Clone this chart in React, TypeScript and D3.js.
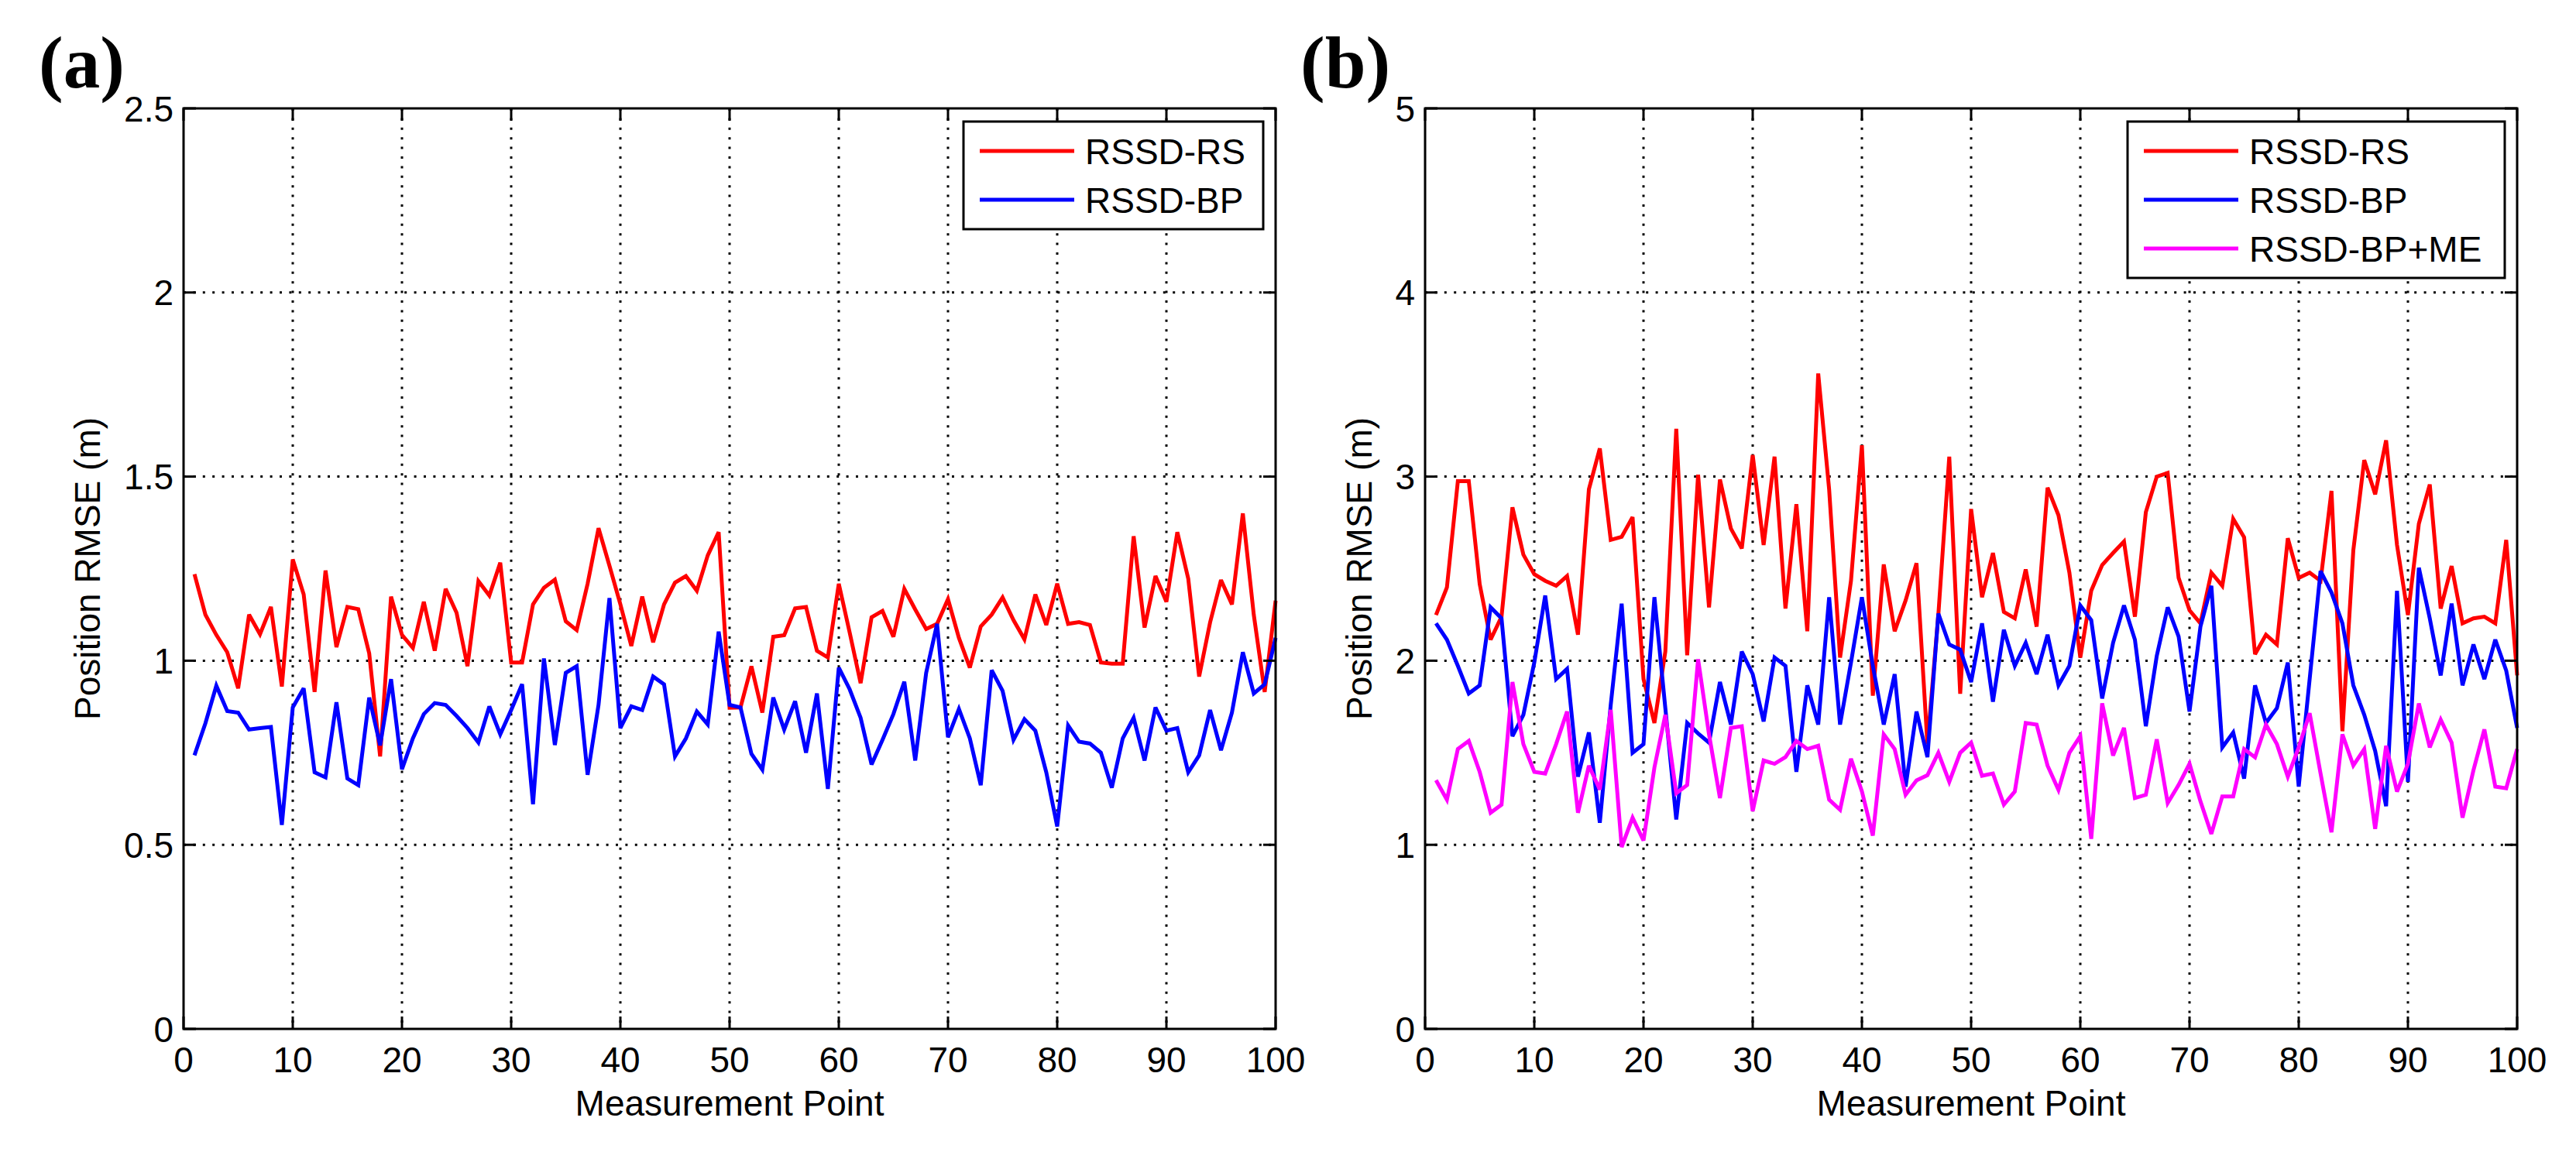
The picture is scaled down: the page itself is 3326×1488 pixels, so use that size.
import { scaleLinear, line } from 'd3';

// Measurement points 1..100
const points = Array.from({ length: 100 }, (_, i) => i + 1);

// Panel (a)
const rsA = [
  1.235, 1.125, 1.07, 1.023, 0.925, 1.125, 1.072, 1.146, 0.93, 1.275,
  1.18, 0.915, 1.245, 1.037, 1.146, 1.14, 1.02, 0.74, 1.174, 1.07,
  1.035, 1.16, 1.027, 1.195, 1.13, 0.985, 1.216, 1.177, 1.266, 0.995,
  0.995, 1.153, 1.198, 1.22, 1.107, 1.083, 1.209, 1.36, 1.258, 1.153,
  1.04, 1.174, 1.05, 1.153, 1.212, 1.23, 1.19, 1.286, 1.349, 0.872,
  0.873, 0.985, 0.859, 1.065, 1.069, 1.142, 1.146, 1.027, 1.009, 1.209,
  1.076, 0.939, 1.118, 1.135, 1.065, 1.195, 1.139, 1.086, 1.1, 1.167,
  1.062, 0.981, 1.093, 1.125, 1.172, 1.11, 1.058, 1.18, 1.097, 1.209,
  1.1, 1.105, 1.097, 0.995, 0.992, 0.992, 1.338, 1.09, 1.23, 1.16,
  1.349, 1.223, 0.957, 1.104, 1.219, 1.153, 1.4, 1.125, 0.915, 1.163,
];
const bpA = [
  0.743, 0.83, 0.932, 0.863, 0.859, 0.813, 0.817, 0.82, 0.554, 0.873,
  0.925, 0.697, 0.683, 0.887, 0.68, 0.662, 0.9, 0.77, 0.95, 0.705,
  0.789, 0.855, 0.885, 0.88, 0.85, 0.817, 0.778, 0.876, 0.8, 0.866,
  0.936, 0.61, 1.006, 0.771, 0.967, 0.985, 0.69, 0.88, 1.17, 0.817,
  0.876, 0.866, 0.957, 0.936, 0.74, 0.789, 0.862, 0.827, 1.079, 0.88,
  0.873, 0.747, 0.704, 0.9, 0.813, 0.89, 0.75, 0.911, 0.652, 0.981,
  0.922, 0.845, 0.718, 0.785, 0.855, 0.943, 0.729, 0.967, 1.1, 0.792,
  0.869, 0.789, 0.662, 0.974, 0.918, 0.785, 0.841, 0.81, 0.697, 0.55,
  0.824, 0.78, 0.775, 0.75, 0.655, 0.789, 0.845, 0.729, 0.873, 0.81,
  0.817, 0.697, 0.743, 0.866, 0.757, 0.859, 1.023, 0.911, 0.936, 1.062,
];

// Panel (b)
const rsB = [
  2.248, 2.398, 2.975, 2.975, 2.416, 2.114, 2.239, 2.833, 2.576, 2.47,
  2.434, 2.407, 2.46, 2.141, 2.931, 3.153, 2.656, 2.673, 2.78, 1.9,
  1.662, 2.05, 3.26, 2.03, 3.01, 2.29, 2.984, 2.718, 2.61, 3.117,
  2.629, 3.108, 2.283, 2.85, 2.16, 3.56, 2.93, 2.017, 2.434, 3.17,
  1.81, 2.523, 2.16, 2.327, 2.53, 1.547, 2.25, 3.108, 1.82, 2.824,
  2.345, 2.585, 2.265, 2.23, 2.496, 2.185, 2.94, 2.79, 2.478, 2.017,
  2.38, 2.52, 2.585, 2.647, 2.239, 2.807, 3.0, 3.02, 2.45, 2.274,
  2.203, 2.478, 2.407, 2.77, 2.67, 2.035, 2.141, 2.088, 2.665, 2.45,
  2.478, 2.434, 2.922, 1.617, 2.6, 3.09, 2.904, 3.197, 2.629, 2.248,
  2.744, 2.957, 2.283, 2.514, 2.203, 2.23, 2.239, 2.203, 2.656, 1.92,
];
const bpB = [
  2.203, 2.114, 1.972, 1.822, 1.866, 2.29, 2.23, 1.59, 1.706, 1.99,
  2.354, 1.9, 1.955, 1.37, 1.61, 1.12, 1.76, 2.31, 1.5, 1.547,
  2.345, 1.742, 1.138, 1.662, 1.605, 1.555, 1.884, 1.653, 2.05, 1.927,
  1.67, 2.017, 1.972, 1.396, 1.866, 1.653, 2.345, 1.653, 1.99, 2.345,
  1.972, 1.653, 1.927, 1.316, 1.724, 1.476, 2.256, 2.088, 2.06, 1.884,
  2.203, 1.777, 2.168, 1.972, 2.097, 1.927, 2.141, 1.866, 1.972, 2.3,
  2.22, 1.795, 2.097, 2.3, 2.114, 1.644, 2.026, 2.29, 2.132, 1.724,
  2.185, 2.407, 1.529, 1.61, 1.36, 1.866, 1.662, 1.742, 1.99, 1.316,
  1.9, 2.487, 2.37, 2.203, 1.866, 1.706, 1.51, 1.21, 2.38, 1.342,
  2.505, 2.23, 1.92, 2.31, 1.866, 2.088, 1.9, 2.114, 1.946, 1.635,
];
const meB = [
  1.351, 1.245, 1.52, 1.564, 1.396, 1.174, 1.218, 1.884, 1.547, 1.396,
  1.387, 1.547, 1.724, 1.174, 1.43, 1.3, 1.733, 0.988, 1.147, 1.023,
  1.42, 1.706, 1.28, 1.325, 2.008, 1.6, 1.254, 1.635, 1.644, 1.183,
  1.458, 1.44, 1.476, 1.564, 1.52, 1.538, 1.245, 1.19, 1.467, 1.29,
  1.05, 1.6, 1.52, 1.272, 1.35, 1.378, 1.5, 1.342, 1.5, 1.555,
  1.375, 1.387, 1.218, 1.289, 1.662, 1.653, 1.43, 1.298, 1.5, 1.591,
  1.032, 1.768, 1.485, 1.635, 1.254, 1.272, 1.573, 1.227, 1.325, 1.44,
  1.236, 1.059, 1.263, 1.263, 1.52, 1.475, 1.653, 1.547, 1.37, 1.529,
  1.715, 1.387, 1.068, 1.6, 1.431, 1.52, 1.086, 1.538, 1.289, 1.44,
  1.768, 1.529, 1.68, 1.555, 1.147, 1.405, 1.627, 1.316, 1.307, 1.52,
];

const xTicks = [0, 10, 20, 30, 40, 50, 60, 70, 80, 90, 100];
const yTicksA = [0, 0.5, 1, 1.5, 2, 2.5];
const yTicksB = [0, 1, 2, 3, 4, 5];

const W = 3326;
const H = 1488;
const FONT = '"Liberation Sans", Arial, Helvetica, sans-serif';
const FS = 46;
const TOP = 140;
const BOTTOM = 1329;

interface Series {
  name: string;
  color: string;
  values: number[];
}

interface PanelProps {
  tag: string;
  tagX: number;
  left: number;
  right: number;
  yMax: number;
  yTicks: number[];
  ylabelX: number;
  series: Series[];
  legendWidth: number;
}

function Panel({ tag, tagX, left, right, yMax, yTicks, ylabelX, series, legendWidth }: PanelProps) {
  const x = scaleLinear().domain([0, 100]).range([left, right]);
  const y = scaleLinear().domain([0, yMax]).range([BOTTOM, TOP]);
  const tickLen = 16;

  const path = line<number>()
    .x((_, i) => x(points[i]))
    .y((d) => y(d));

  // legend geometry
  const lgRight = right - 16;
  const lgLeft = lgRight - legendWidth;
  const lgTop = 157;
  const rowGap = 63;
  const lgHeight = 38 * 2 + rowGap * (series.length - 1);

  return (
    <g>
      <text x={tagX} y={113} fontFamily='"Liberation Serif", "Times New Roman", serif' fontWeight="bold" fontSize={95}>
        {tag}
      </text>

      {/* grid */}
      {xTicks.slice(1, -1).map((t) => (
        <line key={`gx${t}`} x1={x(t)} x2={x(t)} y1={TOP} y2={BOTTOM} stroke="#000" strokeWidth={3} strokeDasharray="3 9.4" />
      ))}
      {yTicks.slice(1, -1).map((t) => (
        <line key={`gy${t}`} x1={left} x2={right} y1={y(t)} y2={y(t)} stroke="#000" strokeWidth={3} strokeDasharray="3 9.4" />
      ))}

      {/* data */}
      {series.map((s) => (
        <path key={s.name} d={path(s.values) || ''} fill="none" stroke={s.color} strokeWidth={5} strokeLinejoin="miter" strokeMiterlimit={3} />
      ))}

      {/* ticks */}
      {xTicks.map((t) => (
        <g key={`tx${t}`}>
          <line x1={x(t)} x2={x(t)} y1={BOTTOM} y2={BOTTOM - tickLen} stroke="#000" strokeWidth={3} />
          <line x1={x(t)} x2={x(t)} y1={TOP} y2={TOP + tickLen} stroke="#000" strokeWidth={3} />
          <text x={x(t)} y={BOTTOM + 56} textAnchor="middle" fontFamily={FONT} fontSize={FS}>
            {t}
          </text>
        </g>
      ))}
      {yTicks.map((t) => (
        <g key={`ty${t}`}>
          <line x1={left} x2={left + tickLen} y1={y(t)} y2={y(t)} stroke="#000" strokeWidth={3} />
          <line x1={right} x2={right - tickLen} y1={y(t)} y2={y(t)} stroke="#000" strokeWidth={3} />
          <text x={left - 13} y={y(t) + 16.5} textAnchor="end" fontFamily={FONT} fontSize={FS}>
            {t}
          </text>
        </g>
      ))}

      <rect x={left} y={TOP} width={right - left} height={BOTTOM - TOP} fill="none" stroke="#000" strokeWidth={3} />

      {/* axis titles */}
      <text x={(left + right) / 2} y={1441} textAnchor="middle" fontFamily={FONT} fontSize={FS}>
        Measurement Point
      </text>
      <text
        transform={`translate(${ylabelX},${(TOP + BOTTOM) / 2}) rotate(-90)`}
        textAnchor="middle"
        fontFamily={FONT}
        fontSize={FS}
      >
        Position RMSE (m)
      </text>

      {/* legend */}
      <rect x={lgLeft} y={lgTop} width={legendWidth} height={lgHeight} fill="#fff" stroke="#000" strokeWidth={3} />
      {series.map((s, i) => {
        const ry = lgTop + 38 + i * rowGap;
        return (
          <g key={`lg${s.name}`}>
            <line x1={lgLeft + 21} x2={lgLeft + 143} y1={ry} y2={ry} stroke={s.color} strokeWidth={5} />
            <text x={lgLeft + 157} y={ry + 16.5} fontFamily={FONT} fontSize={FS}>
              {s.name}
            </text>
          </g>
        );
      })}
    </g>
  );
}

export default function App() {
  return (
    <div style={{ position: 'absolute', left: 0, top: 0, width: W, height: H, background: '#fff' }}>
      <svg width={W} height={H} viewBox={`0 0 ${W} ${H}`}>
        <rect x={0} y={0} width={W} height={H} fill="#fff" />
        <Panel
          tag="(a)"
          tagX={50}
          left={237}
          right={1647}
          yMax={2.5}
          yTicks={yTicksA}
          ylabelX={129}
          legendWidth={387}
          series={[
            { name: 'RSSD-RS', color: '#ff0000', values: rsA },
            { name: 'RSSD-BP', color: '#0000ff', values: bpA },
          ]}
        />
        <Panel
          tag="(b)"
          tagX={1679}
          left={1840}
          right={3250}
          yMax={5}
          yTicks={yTicksB}
          ylabelX={1771}
          legendWidth={487}
          series={[
            { name: 'RSSD-RS', color: '#ff0000', values: rsB },
            { name: 'RSSD-BP', color: '#0000ff', values: bpB },
            { name: 'RSSD-BP+ME', color: '#ff00ff', values: meB },
          ]}
        />
      </svg>
    </div>
  );
}
